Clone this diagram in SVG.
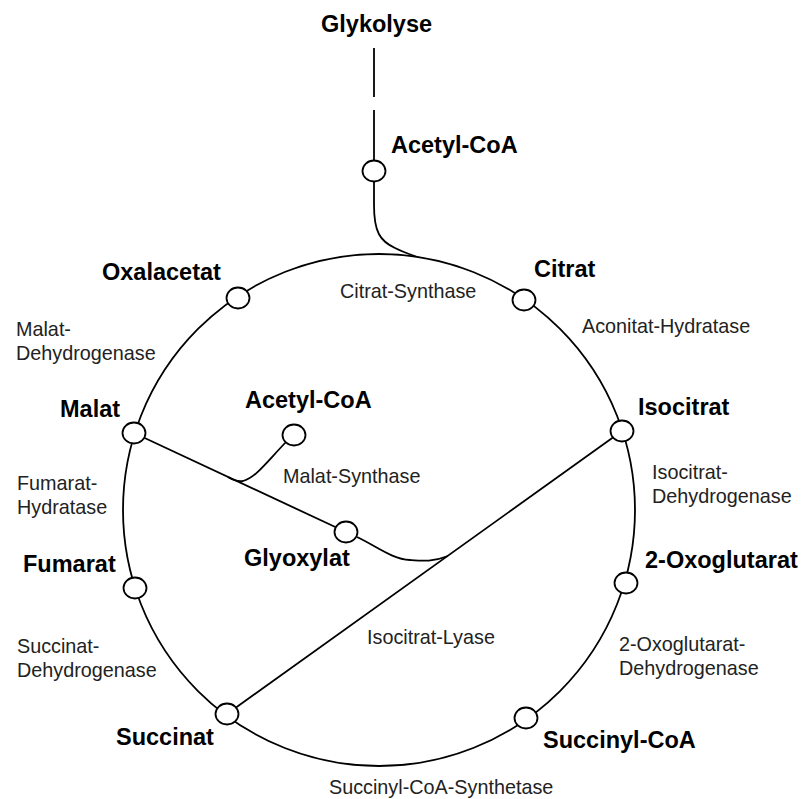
<svg xmlns="http://www.w3.org/2000/svg" width="802" height="799" viewBox="0 0 802 799">
<style>
.b{font-family:"Liberation Sans",Arial,sans-serif;font-weight:bold;font-size:23.5px;fill:#000}
.r{font-family:"Liberation Sans",Arial,sans-serif;font-size:19.8px;fill:#222}
.n{fill:#fff;stroke:#000;stroke-width:1.8}
.c{fill:none;stroke:#000;stroke-width:1.8}
</style>
<rect width="802" height="799" fill="#fff"/>
<g id="connectors">
<circle class="c" cx="379" cy="510" r="256"/>
<line class="c" x1="374" y1="48" x2="374" y2="97"/>
<line class="c" x1="374" y1="110" x2="374" y2="160"/>
<path class="c" d="M374,182 L374,205 C374,232 380,241 395,248 C403,252 409,254 416,256.5"/>
<line class="c" x1="134" y1="433" x2="346" y2="532"/>
<path class="c" d="M286,442 C265,464 255,478 243,481 C238,482 233,480 228,477"/>
<line class="c" x1="622" y1="431" x2="227" y2="714"/>
<path class="c" d="M357,537 C378,547 392,559 410,560 C423,561 433,562 448,556"/>
</g>
<g id="glykolyse"><text class="b" x="321" y="32">Glykolyse</text></g>
<g id="acetylcoa1"><ellipse class="n" cx="374" cy="171" rx="11.5" ry="10.5"/><text class="b" x="391" y="153">Acetyl-CoA</text></g>
<g id="oxalacetat"><ellipse class="n" cx="238" cy="298" rx="11.5" ry="10.5"/><text class="b" x="102" y="280">Oxalacetat</text></g>
<g id="citrat"><ellipse class="n" cx="524" cy="300" rx="11.5" ry="10.5"/><text class="b" x="534" y="277">Citrat</text></g>
<g id="isocitrat"><ellipse class="n" cx="622" cy="431" rx="11.5" ry="10.5"/><text class="b" x="638" y="415">Isocitrat</text></g>
<g id="oxoglutarat"><ellipse class="n" cx="626" cy="583" rx="11.5" ry="10.5"/><text class="b" x="645" y="568">2-Oxoglutarat</text></g>
<g id="succinylcoa"><ellipse class="n" cx="526" cy="718" rx="11.5" ry="10.5"/><text class="b" x="543" y="748">Succinyl-CoA</text></g>
<g id="succinat"><ellipse class="n" cx="227" cy="714" rx="11.5" ry="10.5"/><text class="b" x="116" y="745">Succinat</text></g>
<g id="fumarat"><ellipse class="n" cx="135" cy="588" rx="11.5" ry="10.5"/><text class="b" x="23" y="572">Fumarat</text></g>
<g id="malat"><ellipse class="n" cx="134" cy="433" rx="11.5" ry="10.5"/><text class="b" x="60" y="417">Malat</text></g>
<g id="acetylcoa2"><ellipse class="n" cx="294" cy="435" rx="11.5" ry="10.5"/><text class="b" x="245" y="408">Acetyl-CoA</text></g>
<g id="glyoxylat"><ellipse class="n" cx="346" cy="532" rx="11.5" ry="10.5"/><text class="b" x="244" y="566">Glyoxylat</text></g>
<g id="enzymes">
<text class="r" x="340" y="298">Citrat-Synthase</text>
<text class="r" x="582" y="333">Aconitat-Hydratase</text>
<text class="r" x="652" y="479">Isocitrat-</text>
<text class="r" x="652" y="503">Dehydrogenase</text>
<text class="r" x="619" y="651">2-Oxoglutarat-</text>
<text class="r" x="619" y="675">Dehydrogenase</text>
<text class="r" x="329" y="794">Succinyl-CoA-Synthetase</text>
<text class="r" x="17" y="653">Succinat-</text>
<text class="r" x="17" y="677">Dehydrogenase</text>
<text class="r" x="17" y="490">Fumarat-</text>
<text class="r" x="17" y="514">Hydratase</text>
<text class="r" x="16" y="336">Malat-</text>
<text class="r" x="16" y="360">Dehydrogenase</text>
<text class="r" x="283" y="483">Malat-Synthase</text>
<text class="r" x="367" y="644">Isocitrat-Lyase</text>
</g>
</svg>
